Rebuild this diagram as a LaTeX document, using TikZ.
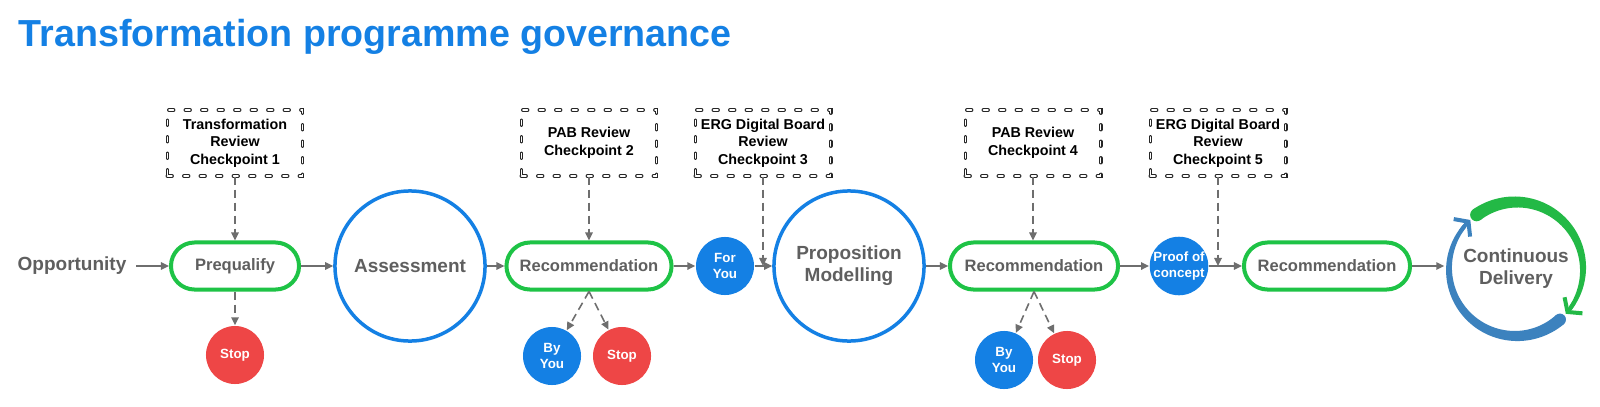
\documentclass[tikz,border=0pt]{standalone}
\usepackage{fontspec}
\setmainfont{Liberation Sans}
\usetikzlibrary{arrows.meta,positioning,calc}
\definecolor{govblue}{RGB}{20,128,228}
\definecolor{govgreen}{RGB}{30,195,70}
\definecolor{govred}{RGB}{238,70,70}
\definecolor{labelgrey}{RGB}{95,95,95}
\definecolor{linkgrey}{RGB}{110,110,110}
\definecolor{cdblue}{RGB}{60,130,190}
\definecolor{cdgreen}{RGB}{35,185,70}

\begin{document}
\begin{tikzpicture}[x=0.01cm,y=0.01cm,>={Triangle[length=0.8mm,width=0.75mm]},
  every node/.style={font=\bfseries,align=center,inner sep=0pt},
  stage/.style={draw=govgreen,line width=0.4mm,rounded corners=2.35mm,minimum height=4.7mm,fill=white,
    text=labelgrey,font=\fontsize{4.7}{5.6}\selectfont\bfseries},
  phase/.style={circle,draw=govblue,line width=0.35mm,minimum size=15mm,fill=white,
    text=labelgrey,font=\fontsize{5.4}{6.3}\selectfont\bfseries},
  outcome/.style={circle,minimum size=5.8mm,text=white,font=\fontsize{3.8}{4.5}\selectfont\bfseries},
  checkpoint/.style={draw=black!85,line width=0.12mm,double,double distance=0.15mm,line cap=round,
    dash pattern=on 0.45mm off 1.2mm,minimum width=13.5mm,minimum height=6.6mm,
    font=\fontsize{4.07}{5}\selectfont\bfseries},
  link/.style={->,draw=linkgrey,line width=0.45pt},
  review/.style={link,dash pattern=on 0.8mm off 0.5mm}]
\fill[white] (0,0) rectangle (1600,-406);
\node[anchor=base west,text=govblue,font=\fontsize{10.7}{12}\selectfont\bfseries] (title) at (18,-47)
  {Transformation programme governance};

\node[text=labelgrey,inner sep=0.9mm,font=\fontsize{5.4}{6.3}\selectfont\bfseries] (opp) at (72,-266) {Opportunity};
\node[stage,minimum width=12.8mm] (prequal) at (235,-266) {Prequalify};
\node[phase] (assess) at (410,-266) {Assessment};
\node[stage,minimum width=16.5mm] (rec1) at (589,-266) {Recommendation};
\node[outcome,fill=govblue] (foryou) at (725,-266) {For\\You};
\node[phase] (propmod) at (849,-266) {Proposition\\Modelling};
\node[stage,minimum width=16.8mm] (rec2) at (1034,-266) {Recommendation};
\node[outcome,fill=govblue] (poc) at (1179,-266) {Proof of\\concept};
\node[stage,minimum width=16.6mm] (rec3) at (1327,-266) {Recommendation};
\node[circle,minimum size=14.2mm,text=labelgrey,font=\fontsize{5.4}{6.3}\selectfont\bfseries] (cd) at (1516,-269)
  {Continuous\\Delivery};

\node[outcome,fill=govred] (stop1) at (235,-355) {Stop};
\node[outcome,fill=govblue] (byyou1) at (552,-356) {By\\You};
\node[outcome,fill=govred] (stop2) at (622,-356) {Stop};
\node[outcome,fill=govblue] (byyou2) at (1004,-360) {By\\You};
\node[outcome,fill=govred] (stop3) at (1067,-360) {Stop};

\node[checkpoint] (cp1) at (235,-143) {Transformation\\Review\\Checkpoint 1};
\node[checkpoint] (cp2) at (589,-143) {PAB Review\\Checkpoint 2};
\node[checkpoint] (cp3) at (763,-143) {ERG Digital Board\\Review\\Checkpoint 3};
\node[checkpoint] (cp4) at (1033,-143) {PAB Review\\Checkpoint 4};
\node[checkpoint] (cp5) at (1218,-143) {ERG Digital Board\\Review\\Checkpoint 5};

\draw[link] (opp) -- (prequal);
\draw[link] (prequal) -- (assess);
\draw[link] (assess) -- (rec1);
\draw[link] (rec1) -- (foryou);
\draw[link] (foryou) -- (propmod);
\draw[link] (propmod) -- (rec2);
\draw[link] (rec2) -- (poc);
\draw[link] (poc) -- (rec3);
\draw[link] (rec3) -- (rec3.east -| cd.west);

\draw[review] (cp1) -- (prequal);
\draw[review] (cp2) -- (rec1);
\draw[review] (cp3) -- (cp3 |- foryou.east);
\draw[review] (cp4.south) -- (cp4.south |- rec2.north);
\draw[review] (cp5) -- (cp5 |- poc.east);
\draw[review] (prequal) -- (stop1);
\draw[review] (rec1.south) -- (byyou1);
\draw[review] (rec1.south) -- (stop2);
\draw[review] (rec2.south) -- (byyou2);
\draw[review] (rec2.south) -- (stop3);

\begin{scope}[shift={(cd.center)}]
\fill[cdgreen] plot[domain=126:-36,samples=60] (\x:{69+4.5*(\x+36)/162})
  -- plot[domain=-36:126,samples=60] (\x:{65-4.5*(\x+36)/162}) -- cycle;
\fill[cdgreen] (126:67) circle[radius=6.5];
\draw[cdgreen,line width=0.4mm,-{Straight Barb[length=0.9mm,width=2.4mm]}] (-30:67) arc[start angle=-30,end angle=-42,radius=67];
\fill[cdblue] plot[domain=-49:-220,samples=60] (\x:{69+4*(\x+220)/171})
  -- plot[domain=-220:-49,samples=60] (\x:{65-4*(\x+220)/171}) -- cycle;
\fill[cdblue] (-49:67) circle[radius=6];
\draw[cdblue,line width=0.4mm,-{Straight Barb[length=0.9mm,width=2.4mm]}] (-214:67) arc[start angle=-214,end angle=-227,radius=67];
\end{scope}
\end{tikzpicture}
\end{document}
